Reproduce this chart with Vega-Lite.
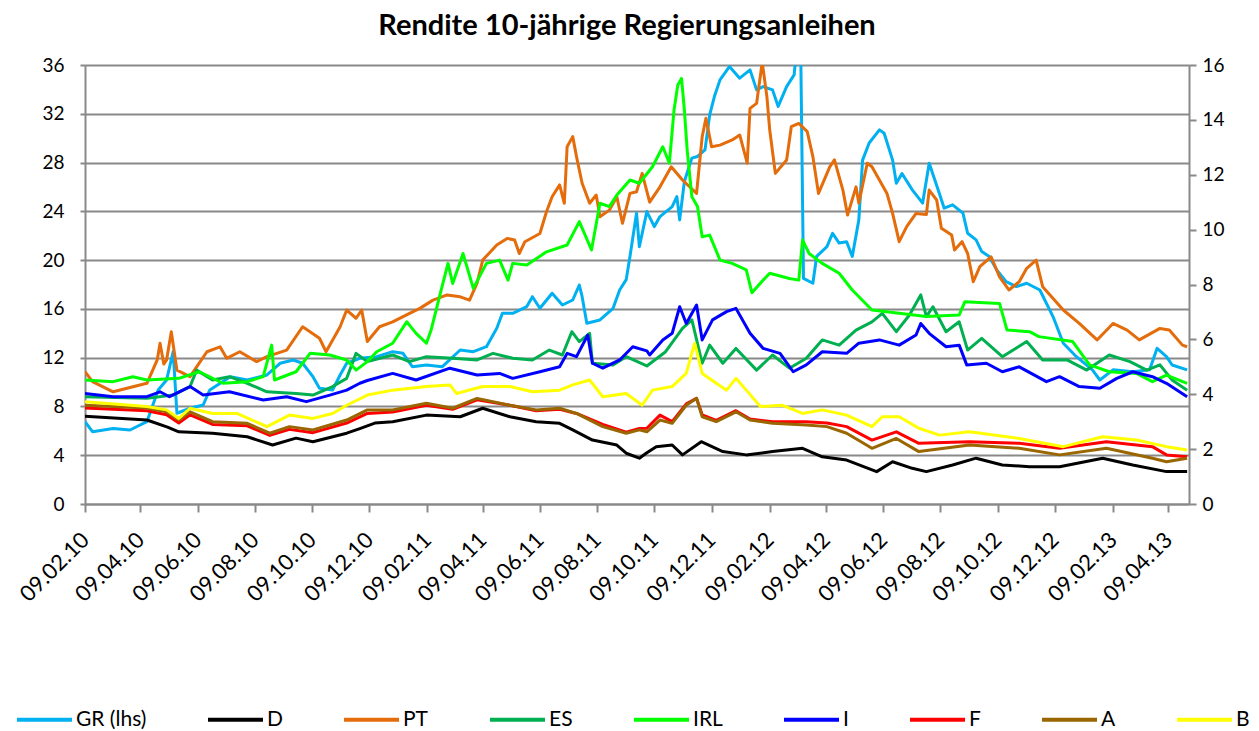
{
"$schema": "https://vega.github.io/schema/vega-lite/v6.json",
"autosize": "none",
"width": 1104,
"height": 439,
"padding": {"left": 85, "top": 65, "right": 70, "bottom": 227},
"background": "white",
"config": {"view": {"stroke": null}, "font": "Lato"},
"title": {"text": "Rendite 10-jährige Regierungsanleihen", "font": "Lato", "fontSize": 29, "fontWeight": "bold", "color": "#000000", "anchor": "middle", "frame": "group", "dx": -10, "offset": 15},
"data": {"values": [
{"d":"2010-02-09","s":"GR (lhs)","v":6.75},{"d":"2010-02-17","s":"GR (lhs)","v":5.93},{"d":"2010-03-11","s":"GR (lhs)","v":6.2},{"d":"2010-03-29","s":"GR (lhs)","v":6.07},{"d":"2010-04-16","s":"GR (lhs)","v":6.75},{"d":"2010-04-28","s":"GR (lhs)","v":9.35},{"d":"2010-05-07","s":"GR (lhs)","v":10.17},{"d":"2010-05-14","s":"GR (lhs)","v":12.5},{"d":"2010-05-18","s":"GR (lhs)","v":7.44},{"d":"2010-06-01","s":"GR (lhs)","v":7.85},{"d":"2010-06-15","s":"GR (lhs)","v":8.12},{"d":"2010-06-22","s":"GR (lhs)","v":9.35},{"d":"2010-07-14","s":"GR (lhs)","v":10.44},{"d":"2010-08-01","s":"GR (lhs)","v":10.17},{"d":"2010-08-22","s":"GR (lhs)","v":10.58},{"d":"2010-09-05","s":"GR (lhs)","v":11.54},{"d":"2010-09-19","s":"GR (lhs)","v":11.81},{"d":"2010-09-29","s":"GR (lhs)","v":11.54},{"d":"2010-10-10","s":"GR (lhs)","v":10.44},{"d":"2010-10-17","s":"GR (lhs)","v":9.49},{"d":"2010-10-31","s":"GR (lhs)","v":9.35},{"d":"2010-11-08","s":"GR (lhs)","v":10.58},{"d":"2010-11-15","s":"GR (lhs)","v":11.54},{"d":"2010-11-29","s":"GR (lhs)","v":11.95},{"d":"2010-12-17","s":"GR (lhs)","v":12.08},{"d":"2011-01-03","s":"GR (lhs)","v":12.49},{"d":"2011-01-14","s":"GR (lhs)","v":12.36},{"d":"2011-01-24","s":"GR (lhs)","v":11.26},{"d":"2011-02-08","s":"GR (lhs)","v":11.4},{"d":"2011-02-25","s":"GR (lhs)","v":11.26},{"d":"2011-03-16","s":"GR (lhs)","v":12.63},{"d":"2011-03-30","s":"GR (lhs)","v":12.49},{"d":"2011-04-13","s":"GR (lhs)","v":12.9},{"d":"2011-04-24","s":"GR (lhs)","v":14.41},{"d":"2011-04-30","s":"GR (lhs)","v":15.64},{"d":"2011-05-11","s":"GR (lhs)","v":15.64},{"d":"2011-05-26","s":"GR (lhs)","v":16.19},{"d":"2011-06-01","s":"GR (lhs)","v":17.0},{"d":"2011-06-09","s":"GR (lhs)","v":16.05},{"d":"2011-06-22","s":"GR (lhs)","v":17.28},{"d":"2011-07-03","s":"GR (lhs)","v":16.32},{"d":"2011-07-14","s":"GR (lhs)","v":16.73},{"d":"2011-07-21","s":"GR (lhs)","v":17.96},{"d":"2011-07-24","s":"GR (lhs)","v":17.0},{"d":"2011-07-29","s":"GR (lhs)","v":14.82},{"d":"2011-08-12","s":"GR (lhs)","v":15.09},{"d":"2011-08-26","s":"GR (lhs)","v":16.05},{"d":"2011-09-02","s":"GR (lhs)","v":17.55},{"d":"2011-09-09","s":"GR (lhs)","v":18.4},{"d":"2011-09-13","s":"GR (lhs)","v":20.3},{"d":"2011-09-20","s":"GR (lhs)","v":23.85},{"d":"2011-09-23","s":"GR (lhs)","v":21.1},{"d":"2011-10-01","s":"GR (lhs)","v":23.98},{"d":"2011-10-09","s":"GR (lhs)","v":22.75},{"d":"2011-10-15","s":"GR (lhs)","v":23.57},{"d":"2011-10-28","s":"GR (lhs)","v":24.39},{"d":"2011-11-02","s":"GR (lhs)","v":25.21},{"d":"2011-11-05","s":"GR (lhs)","v":23.3},{"d":"2011-11-10","s":"GR (lhs)","v":26.44},{"d":"2011-11-18","s":"GR (lhs)","v":28.36},{"d":"2011-11-24","s":"GR (lhs)","v":28.5},{"d":"2011-12-02","s":"GR (lhs)","v":29.04},{"d":"2011-12-07","s":"GR (lhs)","v":31.91},{"d":"2011-12-12","s":"GR (lhs)","v":33.41},{"d":"2011-12-18","s":"GR (lhs)","v":34.78},{"d":"2011-12-28","s":"GR (lhs)","v":35.87},{"d":"2012-01-08","s":"GR (lhs)","v":34.92},{"d":"2012-01-19","s":"GR (lhs)","v":35.6},{"d":"2012-01-26","s":"GR (lhs)","v":33.96},{"d":"2012-02-02","s":"GR (lhs)","v":34.23},{"d":"2012-02-12","s":"GR (lhs)","v":33.96},{"d":"2012-02-18","s":"GR (lhs)","v":32.6},{"d":"2012-02-27","s":"GR (lhs)","v":34.23},{"d":"2012-03-06","s":"GR (lhs)","v":35.19},{"d":"2012-03-09","s":"GR (lhs)","v":37.5},{"d":"2012-03-13","s":"GR (lhs)","v":37.5},{"d":"2012-03-16","s":"GR (lhs)","v":18.5},{"d":"2012-03-26","s":"GR (lhs)","v":18.1},{"d":"2012-03-30","s":"GR (lhs)","v":20.3},{"d":"2012-04-10","s":"GR (lhs)","v":21.1},{"d":"2012-04-16","s":"GR (lhs)","v":22.2},{"d":"2012-04-23","s":"GR (lhs)","v":21.4},{"d":"2012-05-01","s":"GR (lhs)","v":21.5},{"d":"2012-05-07","s":"GR (lhs)","v":20.3},{"d":"2012-05-14","s":"GR (lhs)","v":23.3},{"d":"2012-05-18","s":"GR (lhs)","v":28.2},{"d":"2012-05-25","s":"GR (lhs)","v":29.6},{"d":"2012-06-05","s":"GR (lhs)","v":30.68},{"d":"2012-06-10","s":"GR (lhs)","v":30.4},{"d":"2012-06-19","s":"GR (lhs)","v":28.2},{"d":"2012-06-23","s":"GR (lhs)","v":26.3},{"d":"2012-06-29","s":"GR (lhs)","v":27.1},{"d":"2012-07-10","s":"GR (lhs)","v":25.76},{"d":"2012-07-21","s":"GR (lhs)","v":24.67},{"d":"2012-07-28","s":"GR (lhs)","v":27.95},{"d":"2012-08-06","s":"GR (lhs)","v":25.9},{"d":"2012-08-13","s":"GR (lhs)","v":24.26},{"d":"2012-08-22","s":"GR (lhs)","v":24.53},{"d":"2012-09-02","s":"GR (lhs)","v":23.85},{"d":"2012-09-07","s":"GR (lhs)","v":22.2},{"d":"2012-09-16","s":"GR (lhs)","v":21.66},{"d":"2012-09-22","s":"GR (lhs)","v":20.7},{"d":"2012-09-30","s":"GR (lhs)","v":20.3},{"d":"2012-10-08","s":"GR (lhs)","v":19.2},{"d":"2012-10-18","s":"GR (lhs)","v":18.24},{"d":"2012-10-29","s":"GR (lhs)","v":17.83},{"d":"2012-11-09","s":"GR (lhs)","v":18.1},{"d":"2012-11-23","s":"GR (lhs)","v":17.55},{"d":"2012-12-07","s":"GR (lhs)","v":15.37},{"d":"2012-12-18","s":"GR (lhs)","v":13.18},{"d":"2013-01-01","s":"GR (lhs)","v":12.08},{"d":"2013-01-18","s":"GR (lhs)","v":11.0},{"d":"2013-01-26","s":"GR (lhs)","v":10.17},{"d":"2013-02-09","s":"GR (lhs)","v":11.0},{"d":"2013-03-02","s":"GR (lhs)","v":10.85},{"d":"2013-03-20","s":"GR (lhs)","v":11.0},{"d":"2013-03-28","s":"GR (lhs)","v":12.77},{"d":"2013-04-07","s":"GR (lhs)","v":12.08},{"d":"2013-04-13","s":"GR (lhs)","v":11.4},{"d":"2013-04-29","s":"GR (lhs)","v":11.0},
{"d":"2010-02-09","s":"D","v":3.2},{"d":"2010-04-16","s":"D","v":3.06},{"d":"2010-05-08","s":"D","v":2.8},{"d":"2010-05-20","s":"D","v":2.63},{"d":"2010-06-25","s":"D","v":2.58},{"d":"2010-08-01","s":"D","v":2.45},{"d":"2010-08-28","s":"D","v":2.15},{"d":"2010-09-22","s":"D","v":2.4},{"d":"2010-10-10","s":"D","v":2.27},{"d":"2010-11-15","s":"D","v":2.58},{"d":"2010-11-29","s":"D","v":2.75},{"d":"2010-12-15","s":"D","v":2.95},{"d":"2011-01-03","s":"D","v":3.0},{"d":"2011-02-08","s":"D","v":3.24},{"d":"2011-03-16","s":"D","v":3.18},{"d":"2011-04-09","s":"D","v":3.49},{"d":"2011-05-08","s":"D","v":3.18},{"d":"2011-06-05","s":"D","v":3.0},{"d":"2011-06-30","s":"D","v":2.94},{"d":"2011-07-14","s":"D","v":2.7},{"d":"2011-08-04","s":"D","v":2.33},{"d":"2011-08-30","s":"D","v":2.15},{"d":"2011-09-09","s":"D","v":1.85},{"d":"2011-09-23","s":"D","v":1.67},{"d":"2011-10-01","s":"D","v":1.87},{"d":"2011-10-11","s":"D","v":2.09},{"d":"2011-10-28","s":"D","v":2.15},{"d":"2011-11-08","s":"D","v":1.79},{"d":"2011-11-28","s":"D","v":2.27},{"d":"2011-12-21","s":"D","v":1.91},{"d":"2012-01-15","s":"D","v":1.79},{"d":"2012-02-12","s":"D","v":1.91},{"d":"2012-03-15","s":"D","v":2.03},{"d":"2012-04-05","s":"D","v":1.72},{"d":"2012-05-01","s":"D","v":1.6},{"d":"2012-06-02","s":"D","v":1.18},{"d":"2012-06-19","s":"D","v":1.54},{"d":"2012-07-10","s":"D","v":1.3},{"d":"2012-07-25","s":"D","v":1.18},{"d":"2012-08-22","s":"D","v":1.42},{"d":"2012-09-16","s":"D","v":1.67},{"d":"2012-10-14","s":"D","v":1.42},{"d":"2012-11-12","s":"D","v":1.36},{"d":"2012-12-14","s":"D","v":1.36},{"d":"2013-01-29","s":"D","v":1.67},{"d":"2013-03-02","s":"D","v":1.42},{"d":"2013-04-07","s":"D","v":1.18},{"d":"2013-04-29","s":"D","v":1.18},
{"d":"2010-02-09","s":"PT","v":4.82},{"d":"2010-02-17","s":"PT","v":4.46},{"d":"2010-03-11","s":"PT","v":4.09},{"d":"2010-04-16","s":"PT","v":4.4},{"d":"2010-04-27","s":"PT","v":5.25},{"d":"2010-04-30","s":"PT","v":5.86},{"d":"2010-05-04","s":"PT","v":5.1},{"d":"2010-05-07","s":"PT","v":5.25},{"d":"2010-05-12","s":"PT","v":6.28},{"d":"2010-05-18","s":"PT","v":4.88},{"d":"2010-06-01","s":"PT","v":4.64},{"d":"2010-06-08","s":"PT","v":5.0},{"d":"2010-06-19","s":"PT","v":5.55},{"d":"2010-07-03","s":"PT","v":5.73},{"d":"2010-07-10","s":"PT","v":5.31},{"d":"2010-07-24","s":"PT","v":5.55},{"d":"2010-08-11","s":"PT","v":5.19},{"d":"2010-08-22","s":"PT","v":5.37},{"d":"2010-09-12","s":"PT","v":5.61},{"d":"2010-09-29","s":"PT","v":6.46},{"d":"2010-10-17","s":"PT","v":6.04},{"d":"2010-10-24","s":"PT","v":5.55},{"d":"2010-11-08","s":"PT","v":6.46},{"d":"2010-11-15","s":"PT","v":7.07},{"d":"2010-11-25","s":"PT","v":6.77},{"d":"2010-12-01","s":"PT","v":7.07},{"d":"2010-12-07","s":"PT","v":5.92},{"d":"2010-12-20","s":"PT","v":6.46},{"d":"2011-01-03","s":"PT","v":6.64},{"d":"2011-01-21","s":"PT","v":6.95},{"d":"2011-02-01","s":"PT","v":7.13},{"d":"2011-02-15","s":"PT","v":7.43},{"d":"2011-03-02","s":"PT","v":7.62},{"d":"2011-03-16","s":"PT","v":7.55},{"d":"2011-03-26","s":"PT","v":7.43},{"d":"2011-04-03","s":"PT","v":8.05},{"d":"2011-04-09","s":"PT","v":8.89},{"d":"2011-04-24","s":"PT","v":9.44},{"d":"2011-05-05","s":"PT","v":9.68},{"d":"2011-05-13","s":"PT","v":9.62},{"d":"2011-05-18","s":"PT","v":9.13},{"d":"2011-05-24","s":"PT","v":9.56},{"d":"2011-06-09","s":"PT","v":9.86},{"d":"2011-06-16","s":"PT","v":10.65},{"d":"2011-06-22","s":"PT","v":11.2},{"d":"2011-06-30","s":"PT","v":11.63},{"d":"2011-07-05","s":"PT","v":10.96},{"d":"2011-07-08","s":"PT","v":13.02},{"d":"2011-07-14","s":"PT","v":13.39},{"d":"2011-07-18","s":"PT","v":12.66},{"d":"2011-07-24","s":"PT","v":11.69},{"d":"2011-08-01","s":"PT","v":10.96},{"d":"2011-08-08","s":"PT","v":11.26},{"d":"2011-08-12","s":"PT","v":10.47},{"d":"2011-08-22","s":"PT","v":10.71},{"d":"2011-08-30","s":"PT","v":11.2},{"d":"2011-09-05","s":"PT","v":10.23},{"d":"2011-09-13","s":"PT","v":11.32},{"d":"2011-09-20","s":"PT","v":11.38},{"d":"2011-09-26","s":"PT","v":12.05},{"d":"2011-10-04","s":"PT","v":11.0},{"d":"2011-10-15","s":"PT","v":11.56},{"d":"2011-10-27","s":"PT","v":12.29},{"d":"2011-11-08","s":"PT","v":11.81},{"d":"2011-11-23","s":"PT","v":11.32},{"d":"2011-11-29","s":"PT","v":13.39},{"d":"2011-12-03","s":"PT","v":14.06},{"d":"2011-12-09","s":"PT","v":13.02},{"d":"2011-12-18","s":"PT","v":13.08},{"d":"2011-12-31","s":"PT","v":13.27},{"d":"2012-01-08","s":"PT","v":13.45},{"d":"2012-01-16","s":"PT","v":12.42},{"d":"2012-01-19","s":"PT","v":14.42},{"d":"2012-01-26","s":"PT","v":14.6},{"d":"2012-02-01","s":"PT","v":16.1},{"d":"2012-02-06","s":"PT","v":14.84},{"d":"2012-02-09","s":"PT","v":13.63},{"d":"2012-02-15","s":"PT","v":12.05},{"d":"2012-02-27","s":"PT","v":12.54},{"d":"2012-03-03","s":"PT","v":13.75},{"d":"2012-03-11","s":"PT","v":13.87},{"d":"2012-03-20","s":"PT","v":13.57},{"d":"2012-03-26","s":"PT","v":12.66},{"d":"2012-04-01","s":"PT","v":11.32},{"d":"2012-04-13","s":"PT","v":12.29},{"d":"2012-04-18","s":"PT","v":12.54},{"d":"2012-04-27","s":"PT","v":11.44},{"d":"2012-05-02","s":"PT","v":10.53},{"d":"2012-05-11","s":"PT","v":11.56},{"d":"2012-05-14","s":"PT","v":10.96},{"d":"2012-05-23","s":"PT","v":12.42},{"d":"2012-05-28","s":"PT","v":12.29},{"d":"2012-06-13","s":"PT","v":11.32},{"d":"2012-06-19","s":"PT","v":10.59},{"d":"2012-06-26","s":"PT","v":9.56},{"d":"2012-07-04","s":"PT","v":10.11},{"d":"2012-07-14","s":"PT","v":10.59},{"d":"2012-07-25","s":"PT","v":10.55},{"d":"2012-07-28","s":"PT","v":11.44},{"d":"2012-08-05","s":"PT","v":11.08},{"d":"2012-08-10","s":"PT","v":10.05},{"d":"2012-08-21","s":"PT","v":9.8},{"d":"2012-08-24","s":"PT","v":9.26},{"d":"2012-09-01","s":"PT","v":9.56},{"d":"2012-09-07","s":"PT","v":9.13},{"d":"2012-09-13","s":"PT","v":8.1},{"d":"2012-09-20","s":"PT","v":8.65},{"d":"2012-10-02","s":"PT","v":9.01},{"d":"2012-10-11","s":"PT","v":8.28},{"d":"2012-10-21","s":"PT","v":7.8},{"d":"2012-11-01","s":"PT","v":8.1},{"d":"2012-11-09","s":"PT","v":8.59},{"d":"2012-11-19","s":"PT","v":8.89},{"d":"2012-11-26","s":"PT","v":7.92},{"d":"2012-12-18","s":"PT","v":7.07},{"d":"2013-01-04","s":"PT","v":6.58},{"d":"2013-01-23","s":"PT","v":5.98},{"d":"2013-02-09","s":"PT","v":6.58},{"d":"2013-02-24","s":"PT","v":6.34},{"d":"2013-03-09","s":"PT","v":5.98},{"d":"2013-03-31","s":"PT","v":6.4},{"d":"2013-04-10","s":"PT","v":6.34},{"d":"2013-04-24","s":"PT","v":5.79},{"d":"2013-04-29","s":"PT","v":5.73},
{"d":"2010-02-09","s":"ES","v":3.91},{"d":"2010-04-16","s":"ES","v":3.85},{"d":"2010-05-14","s":"ES","v":3.97},{"d":"2010-06-01","s":"ES","v":4.28},{"d":"2010-06-08","s":"ES","v":4.88},{"d":"2010-06-25","s":"ES","v":4.52},{"d":"2010-07-13","s":"ES","v":4.64},{"d":"2010-08-01","s":"ES","v":4.4},{"d":"2010-08-22","s":"ES","v":4.09},{"d":"2010-09-22","s":"ES","v":4.03},{"d":"2010-10-10","s":"ES","v":3.97},{"d":"2010-10-31","s":"ES","v":4.28},{"d":"2010-11-15","s":"ES","v":4.58},{"d":"2010-11-25","s":"ES","v":5.49},{"d":"2010-12-07","s":"ES","v":5.19},{"d":"2011-01-03","s":"ES","v":5.43},{"d":"2011-01-21","s":"ES","v":5.19},{"d":"2011-02-08","s":"ES","v":5.37},{"d":"2011-03-08","s":"ES","v":5.31},{"d":"2011-04-03","s":"ES","v":5.25},{"d":"2011-04-20","s":"ES","v":5.49},{"d":"2011-05-11","s":"ES","v":5.31},{"d":"2011-06-01","s":"ES","v":5.25},{"d":"2011-06-19","s":"ES","v":5.61},{"d":"2011-07-03","s":"ES","v":5.43},{"d":"2011-07-13","s":"ES","v":6.28},{"d":"2011-07-21","s":"ES","v":5.92},{"d":"2011-08-01","s":"ES","v":6.22},{"d":"2011-08-04","s":"ES","v":5.13},{"d":"2011-08-26","s":"ES","v":5.07},{"d":"2011-09-09","s":"ES","v":5.37},{"d":"2011-10-01","s":"ES","v":5.03},{"d":"2011-10-21","s":"ES","v":5.55},{"d":"2011-11-08","s":"ES","v":6.4},{"d":"2011-11-18","s":"ES","v":6.71},{"d":"2011-11-29","s":"ES","v":5.13},{"d":"2011-12-07","s":"ES","v":5.79},{"d":"2011-12-21","s":"ES","v":5.13},{"d":"2012-01-04","s":"ES","v":5.67},{"d":"2012-01-26","s":"ES","v":4.88},{"d":"2012-02-12","s":"ES","v":5.43},{"d":"2012-03-01","s":"ES","v":4.95},{"d":"2012-03-19","s":"ES","v":5.31},{"d":"2012-04-05","s":"ES","v":5.98},{"d":"2012-04-23","s":"ES","v":5.79},{"d":"2012-05-11","s":"ES","v":6.34},{"d":"2012-05-28","s":"ES","v":6.64},{"d":"2012-06-08","s":"ES","v":6.95},{"d":"2012-06-23","s":"ES","v":6.28},{"d":"2012-07-07","s":"ES","v":6.89},{"d":"2012-07-19","s":"ES","v":7.62},{"d":"2012-07-25","s":"ES","v":6.83},{"d":"2012-08-01","s":"ES","v":7.19},{"d":"2012-08-15","s":"ES","v":6.28},{"d":"2012-08-29","s":"ES","v":6.64},{"d":"2012-09-07","s":"ES","v":5.61},{"d":"2012-09-22","s":"ES","v":6.04},{"d":"2012-10-14","s":"ES","v":5.37},{"d":"2012-11-09","s":"ES","v":5.92},{"d":"2012-11-26","s":"ES","v":5.25},{"d":"2012-12-22","s":"ES","v":5.25},{"d":"2013-01-12","s":"ES","v":4.88},{"d":"2013-02-05","s":"ES","v":5.43},{"d":"2013-02-27","s":"ES","v":5.19},{"d":"2013-03-17","s":"ES","v":4.88},{"d":"2013-03-31","s":"ES","v":5.07},{"d":"2013-04-13","s":"ES","v":4.52},{"d":"2013-04-29","s":"ES","v":4.15},
{"d":"2010-02-09","s":"IRL","v":4.52},{"d":"2010-03-11","s":"IRL","v":4.46},{"d":"2010-04-01","s":"IRL","v":4.64},{"d":"2010-04-16","s":"IRL","v":4.52},{"d":"2010-05-20","s":"IRL","v":4.58},{"d":"2010-06-11","s":"IRL","v":4.82},{"d":"2010-07-06","s":"IRL","v":4.4},{"d":"2010-08-01","s":"IRL","v":4.46},{"d":"2010-08-18","s":"IRL","v":4.64},{"d":"2010-08-27","s":"IRL","v":5.79},{"d":"2010-08-30","s":"IRL","v":4.52},{"d":"2010-09-22","s":"IRL","v":4.82},{"d":"2010-10-07","s":"IRL","v":5.49},{"d":"2010-10-28","s":"IRL","v":5.43},{"d":"2010-11-15","s":"IRL","v":5.25},{"d":"2010-11-25","s":"IRL","v":4.88},{"d":"2010-12-07","s":"IRL","v":5.19},{"d":"2010-12-17","s":"IRL","v":5.55},{"d":"2011-01-03","s":"IRL","v":5.86},{"d":"2011-01-18","s":"IRL","v":6.64},{"d":"2011-01-28","s":"IRL","v":6.22},{"d":"2011-02-08","s":"IRL","v":5.86},{"d":"2011-02-13","s":"IRL","v":6.34},{"d":"2011-02-21","s":"IRL","v":7.43},{"d":"2011-03-03","s":"IRL","v":8.77},{"d":"2011-03-08","s":"IRL","v":8.04},{"d":"2011-03-19","s":"IRL","v":9.13},{"d":"2011-03-30","s":"IRL","v":7.86},{"d":"2011-04-13","s":"IRL","v":8.77},{"d":"2011-04-27","s":"IRL","v":8.89},{"d":"2011-05-06","s":"IRL","v":8.16},{"d":"2011-05-11","s":"IRL","v":8.77},{"d":"2011-05-26","s":"IRL","v":8.71},{"d":"2011-06-16","s":"IRL","v":9.19},{"d":"2011-07-08","s":"IRL","v":9.44},{"d":"2011-07-21","s":"IRL","v":10.29},{"d":"2011-08-03","s":"IRL","v":9.26},{"d":"2011-08-12","s":"IRL","v":10.96},{"d":"2011-08-22","s":"IRL","v":10.84},{"d":"2011-08-30","s":"IRL","v":11.26},{"d":"2011-09-13","s":"IRL","v":11.81},{"d":"2011-09-23","s":"IRL","v":11.69},{"d":"2011-10-07","s":"IRL","v":12.29},{"d":"2011-10-18","s":"IRL","v":13.02},{"d":"2011-10-25","s":"IRL","v":12.42},{"d":"2011-10-30","s":"IRL","v":14.36},{"d":"2011-11-03","s":"IRL","v":15.27},{"d":"2011-11-07","s":"IRL","v":15.51},{"d":"2011-11-10","s":"IRL","v":14.36},{"d":"2011-11-13","s":"IRL","v":12.9},{"d":"2011-11-18","s":"IRL","v":11.2},{"d":"2011-11-24","s":"IRL","v":10.84},{"d":"2011-11-29","s":"IRL","v":9.74},{"d":"2011-12-07","s":"IRL","v":9.8},{"d":"2011-12-18","s":"IRL","v":8.89},{"d":"2011-12-31","s":"IRL","v":8.77},{"d":"2012-01-15","s":"IRL","v":8.53},{"d":"2012-01-21","s":"IRL","v":7.7},{"d":"2012-02-02","s":"IRL","v":8.16},{"d":"2012-02-09","s":"IRL","v":8.41},{"d":"2012-03-01","s":"IRL","v":8.22},{"d":"2012-03-11","s":"IRL","v":8.16},{"d":"2012-03-15","s":"IRL","v":9.62},{"d":"2012-03-22","s":"IRL","v":9.13},{"d":"2012-04-05","s":"IRL","v":8.77},{"d":"2012-04-23","s":"IRL","v":8.41},{"d":"2012-05-07","s":"IRL","v":7.8},{"d":"2012-05-28","s":"IRL","v":7.07},{"d":"2012-06-26","s":"IRL","v":6.95},{"d":"2012-07-25","s":"IRL","v":6.83},{"d":"2012-08-29","s":"IRL","v":6.89},{"d":"2012-09-04","s":"IRL","v":7.37},{"d":"2012-10-11","s":"IRL","v":7.31},{"d":"2012-10-19","s":"IRL","v":6.34},{"d":"2012-11-12","s":"IRL","v":6.28},{"d":"2012-11-22","s":"IRL","v":6.1},{"d":"2012-12-28","s":"IRL","v":5.92},{"d":"2013-01-15","s":"IRL","v":5.07},{"d":"2013-02-05","s":"IRL","v":4.82},{"d":"2013-03-06","s":"IRL","v":4.76},{"d":"2013-03-23","s":"IRL","v":4.46},{"d":"2013-04-07","s":"IRL","v":4.7},{"d":"2013-04-29","s":"IRL","v":4.4},
{"d":"2010-02-09","s":"I","v":4.03},{"d":"2010-03-11","s":"I","v":3.91},{"d":"2010-04-16","s":"I","v":3.91},{"d":"2010-04-30","s":"I","v":4.09},{"d":"2010-05-10","s":"I","v":3.91},{"d":"2010-06-01","s":"I","v":4.28},{"d":"2010-06-15","s":"I","v":3.97},{"d":"2010-07-13","s":"I","v":4.09},{"d":"2010-08-18","s":"I","v":3.79},{"d":"2010-09-12","s":"I","v":3.91},{"d":"2010-10-03","s":"I","v":3.73},{"d":"2010-10-28","s":"I","v":3.97},{"d":"2010-11-15","s":"I","v":4.15},{"d":"2010-11-29","s":"I","v":4.4},{"d":"2010-12-07","s":"I","v":4.5},{"d":"2011-01-03","s":"I","v":4.76},{"d":"2011-01-28","s":"I","v":4.52},{"d":"2011-03-05","s":"I","v":4.95},{"d":"2011-04-03","s":"I","v":4.7},{"d":"2011-04-27","s":"I","v":4.76},{"d":"2011-05-11","s":"I","v":4.58},{"d":"2011-06-09","s":"I","v":4.82},{"d":"2011-06-30","s":"I","v":5.0},{"d":"2011-07-08","s":"I","v":5.49},{"d":"2011-07-18","s":"I","v":5.37},{"d":"2011-07-30","s":"I","v":6.16},{"d":"2011-08-04","s":"I","v":5.13},{"d":"2011-08-15","s":"I","v":4.95},{"d":"2011-09-02","s":"I","v":5.25},{"d":"2011-09-16","s":"I","v":5.73},{"d":"2011-10-01","s":"I","v":5.58},{"d":"2011-10-04","s":"I","v":5.43},{"d":"2011-10-18","s":"I","v":5.98},{"d":"2011-10-28","s":"I","v":6.22},{"d":"2011-11-05","s":"I","v":7.19},{"d":"2011-11-12","s":"I","v":6.58},{"d":"2011-11-23","s":"I","v":7.25},{"d":"2011-11-29","s":"I","v":5.98},{"d":"2011-12-10","s":"I","v":6.71},{"d":"2011-12-25","s":"I","v":7.01},{"d":"2012-01-04","s":"I","v":7.13},{"d":"2012-01-19","s":"I","v":6.22},{"d":"2012-02-02","s":"I","v":5.67},{"d":"2012-02-20","s":"I","v":5.49},{"d":"2012-03-05","s":"I","v":4.82},{"d":"2012-03-19","s":"I","v":5.07},{"d":"2012-04-05","s":"I","v":5.55},{"d":"2012-05-01","s":"I","v":5.49},{"d":"2012-05-14","s":"I","v":5.86},{"d":"2012-06-05","s":"I","v":5.98},{"d":"2012-06-26","s":"I","v":5.79},{"d":"2012-07-14","s":"I","v":6.16},{"d":"2012-07-19","s":"I","v":6.58},{"d":"2012-07-28","s":"I","v":6.22},{"d":"2012-08-15","s":"I","v":5.73},{"d":"2012-08-29","s":"I","v":5.79},{"d":"2012-09-06","s":"I","v":5.07},{"d":"2012-09-27","s":"I","v":5.13},{"d":"2012-10-14","s":"I","v":4.82},{"d":"2012-11-01","s":"I","v":5.0},{"d":"2012-11-30","s":"I","v":4.46},{"d":"2012-12-14","s":"I","v":4.64},{"d":"2013-01-04","s":"I","v":4.28},{"d":"2013-01-26","s":"I","v":4.22},{"d":"2013-02-13","s":"I","v":4.58},{"d":"2013-03-02","s":"I","v":4.82},{"d":"2013-03-23","s":"I","v":4.64},{"d":"2013-04-07","s":"I","v":4.4},{"d":"2013-04-29","s":"I","v":3.91},
{"d":"2010-02-09","s":"F","v":3.5},{"d":"2010-04-16","s":"F","v":3.4},{"d":"2010-05-07","s":"F","v":3.25},{"d":"2010-05-20","s":"F","v":2.95},{"d":"2010-06-01","s":"F","v":3.25},{"d":"2010-06-25","s":"F","v":2.9},{"d":"2010-08-01","s":"F","v":2.85},{"d":"2010-08-25","s":"F","v":2.5},{"d":"2010-09-15","s":"F","v":2.72},{"d":"2010-10-10","s":"F","v":2.6},{"d":"2010-11-15","s":"F","v":2.95},{"d":"2010-12-07","s":"F","v":3.3},{"d":"2011-01-03","s":"F","v":3.35},{"d":"2011-02-08","s":"F","v":3.6},{"d":"2011-03-08","s":"F","v":3.45},{"d":"2011-04-03","s":"F","v":3.8},{"d":"2011-05-08","s":"F","v":3.6},{"d":"2011-06-05","s":"F","v":3.4},{"d":"2011-06-30","s":"F","v":3.45},{"d":"2011-07-18","s":"F","v":3.3},{"d":"2011-08-15","s":"F","v":2.9},{"d":"2011-09-09","s":"F","v":2.62},{"d":"2011-09-23","s":"F","v":2.75},{"d":"2011-10-01","s":"F","v":2.76},{"d":"2011-10-15","s":"F","v":3.24},{"d":"2011-10-28","s":"F","v":3.0},{"d":"2011-11-12","s":"F","v":3.65},{"d":"2011-11-23","s":"F","v":3.85},{"d":"2011-11-29","s":"F","v":3.25},{"d":"2011-12-14","s":"F","v":3.05},{"d":"2012-01-04","s":"F","v":3.4},{"d":"2012-01-19","s":"F","v":3.1},{"d":"2012-02-12","s":"F","v":3.0},{"d":"2012-03-19","s":"F","v":3.0},{"d":"2012-04-10","s":"F","v":2.95},{"d":"2012-05-01","s":"F","v":2.82},{"d":"2012-05-28","s":"F","v":2.33},{"d":"2012-06-23","s":"F","v":2.63},{"d":"2012-07-17","s":"F","v":2.21},{"d":"2012-09-09","s":"F","v":2.27},{"d":"2012-11-01","s":"F","v":2.21},{"d":"2012-12-14","s":"F","v":2.03},{"d":"2013-02-02","s":"F","v":2.27},{"d":"2013-03-23","s":"F","v":2.09},{"d":"2013-04-07","s":"F","v":1.79},{"d":"2013-04-29","s":"F","v":1.72},
{"d":"2010-02-09","s":"A","v":3.6},{"d":"2010-04-16","s":"A","v":3.5},{"d":"2010-05-07","s":"A","v":3.36},{"d":"2010-05-20","s":"A","v":3.06},{"d":"2010-06-01","s":"A","v":3.36},{"d":"2010-06-25","s":"A","v":3.0},{"d":"2010-08-01","s":"A","v":2.94},{"d":"2010-08-25","s":"A","v":2.58},{"d":"2010-09-15","s":"A","v":2.82},{"d":"2010-10-10","s":"A","v":2.7},{"d":"2010-11-15","s":"A","v":3.06},{"d":"2010-12-07","s":"A","v":3.43},{"d":"2011-01-03","s":"A","v":3.43},{"d":"2011-02-08","s":"A","v":3.67},{"d":"2011-03-08","s":"A","v":3.49},{"d":"2011-04-03","s":"A","v":3.85},{"d":"2011-05-08","s":"A","v":3.6},{"d":"2011-06-05","s":"A","v":3.43},{"d":"2011-06-30","s":"A","v":3.49},{"d":"2011-07-18","s":"A","v":3.3},{"d":"2011-08-15","s":"A","v":2.82},{"d":"2011-09-09","s":"A","v":2.58},{"d":"2011-09-23","s":"A","v":2.7},{"d":"2011-10-01","s":"A","v":2.63},{"d":"2011-10-15","s":"A","v":3.06},{"d":"2011-10-28","s":"A","v":2.94},{"d":"2011-11-12","s":"A","v":3.6},{"d":"2011-11-23","s":"A","v":3.85},{"d":"2011-11-29","s":"A","v":3.18},{"d":"2011-12-14","s":"A","v":3.0},{"d":"2012-01-04","s":"A","v":3.36},{"d":"2012-01-19","s":"A","v":3.06},{"d":"2012-02-12","s":"A","v":2.94},{"d":"2012-03-19","s":"A","v":2.88},{"d":"2012-04-10","s":"A","v":2.82},{"d":"2012-05-01","s":"A","v":2.58},{"d":"2012-05-28","s":"A","v":2.03},{"d":"2012-06-23","s":"A","v":2.39},{"d":"2012-07-17","s":"A","v":1.91},{"d":"2012-09-09","s":"A","v":2.15},{"d":"2012-11-01","s":"A","v":2.03},{"d":"2012-12-14","s":"A","v":1.79},{"d":"2013-02-02","s":"A","v":2.03},{"d":"2013-03-23","s":"A","v":1.67},{"d":"2013-04-07","s":"A","v":1.54},{"d":"2013-04-29","s":"A","v":1.67},
{"d":"2010-02-09","s":"B","v":3.73},{"d":"2010-04-16","s":"B","v":3.55},{"d":"2010-05-07","s":"B","v":3.43},{"d":"2010-05-20","s":"B","v":3.12},{"d":"2010-06-01","s":"B","v":3.49},{"d":"2010-06-25","s":"B","v":3.3},{"d":"2010-07-21","s":"B","v":3.3},{"d":"2010-08-22","s":"B","v":2.82},{"d":"2010-09-15","s":"B","v":3.24},{"d":"2010-10-10","s":"B","v":3.12},{"d":"2010-10-31","s":"B","v":3.3},{"d":"2010-11-15","s":"B","v":3.6},{"d":"2010-12-07","s":"B","v":3.97},{"d":"2011-01-03","s":"B","v":4.15},{"d":"2011-02-08","s":"B","v":4.28},{"d":"2011-03-05","s":"B","v":4.34},{"d":"2011-03-12","s":"B","v":4.03},{"d":"2011-04-09","s":"B","v":4.28},{"d":"2011-05-08","s":"B","v":4.28},{"d":"2011-06-01","s":"B","v":4.09},{"d":"2011-06-30","s":"B","v":4.15},{"d":"2011-07-14","s":"B","v":4.34},{"d":"2011-08-01","s":"B","v":4.52},{"d":"2011-08-15","s":"B","v":3.91},{"d":"2011-09-09","s":"B","v":4.03},{"d":"2011-09-26","s":"B","v":3.6},{"d":"2011-10-07","s":"B","v":4.15},{"d":"2011-10-28","s":"B","v":4.28},{"d":"2011-11-12","s":"B","v":4.76},{"d":"2011-11-21","s":"B","v":5.86},{"d":"2011-11-29","s":"B","v":4.76},{"d":"2011-12-14","s":"B","v":4.4},{"d":"2011-12-25","s":"B","v":4.15},{"d":"2012-01-04","s":"B","v":4.58},{"d":"2012-01-15","s":"B","v":4.15},{"d":"2012-01-30","s":"B","v":3.55},{"d":"2012-02-22","s":"B","v":3.6},{"d":"2012-03-15","s":"B","v":3.3},{"d":"2012-04-05","s":"B","v":3.43},{"d":"2012-05-01","s":"B","v":3.24},{"d":"2012-05-28","s":"B","v":2.82},{"d":"2012-06-08","s":"B","v":3.18},{"d":"2012-06-26","s":"B","v":3.18},{"d":"2012-07-17","s":"B","v":2.76},{"d":"2012-08-08","s":"B","v":2.51},{"d":"2012-09-09","s":"B","v":2.63},{"d":"2012-11-01","s":"B","v":2.39},{"d":"2012-12-18","s":"B","v":2.09},{"d":"2013-01-29","s":"B","v":2.45},{"d":"2013-03-06","s":"B","v":2.33},{"d":"2013-04-07","s":"B","v":2.09},{"d":"2013-04-29","s":"B","v":1.97}
]},
"encoding": {
  "x": {"field": "d", "type": "temporal",
    "scale": {"type": "utc", "domain": [{"year":2010,"month":2,"date":9,"utc":true},{"year":2013,"month":5,"date":1,"utc":true}]},
    "axis": {"title": null, "format": "%d.%m.%y", "labelAngle": -45, "labelAlign": "right", "labelBaseline": "middle", "labelFont": "Lato", "labelFontSize": 22, "labelColor": "#000000", "labelPadding": 24, "tickSize": 8, "tickColor": "#898989", "tickWidth": 2, "domainColor": "#898989", "domainWidth": 2, "grid": false, "labelOverlap": false, "labelBound": false, "labelFlush": false,
      "values": [{"year":2010,"month":2,"date":9,"utc":true},{"year":2010,"month":4,"date":9,"utc":true},{"year":2010,"month":6,"date":9,"utc":true},{"year":2010,"month":8,"date":9,"utc":true},{"year":2010,"month":10,"date":9,"utc":true},{"year":2010,"month":12,"date":9,"utc":true},{"year":2011,"month":2,"date":9,"utc":true},{"year":2011,"month":4,"date":9,"utc":true},{"year":2011,"month":6,"date":9,"utc":true},{"year":2011,"month":8,"date":9,"utc":true},{"year":2011,"month":10,"date":9,"utc":true},{"year":2011,"month":12,"date":9,"utc":true},{"year":2012,"month":2,"date":9,"utc":true},{"year":2012,"month":4,"date":9,"utc":true},{"year":2012,"month":6,"date":9,"utc":true},{"year":2012,"month":8,"date":9,"utc":true},{"year":2012,"month":10,"date":9,"utc":true},{"year":2012,"month":12,"date":9,"utc":true},{"year":2013,"month":2,"date":9,"utc":true},{"year":2013,"month":4,"date":9,"utc":true}]}},
  "color": {"field": "s", "type": "nominal",
    "scale": {"domain": ["GR (lhs)","D","PT","ES","IRL","I","F","A","B"], "range": ["#00B0F0","#000000","#E46C0A","#00B050","#00FF00","#0000FF","#FF0000","#996600","#FFFF00"]},
    "legend": {"title": null, "orient": "none", "legendX": -70, "legendY": 625, "direction": "horizontal", "symbolType": "stroke", "symbolSize": 3025, "symbolStrokeWidth": 4, "labelFont": "Lato", "labelFontSize": 21, "labelColor": "#000000", "labelOffset": 2, "columnPadding": 53}}
},
"layer": [
  {"transform": [{"filter": "datum.s === 'GR (lhs)'"}],
   "mark": {"type": "line", "strokeWidth": 3, "clip": true, "strokeJoin": "round"},
   "encoding": {"y": {"field": "v", "type": "quantitative", "scale": {"domain": [0, 36], "nice": false},
     "axis": {"title": null, "orient": "left", "values": [0,4,8,12,16,20,24,28,32,36], "grid": true, "gridColor": "#898989", "gridWidth": 2, "labelFont": "Lato", "labelFontSize": 19, "labelColor": "#000000", "labelPadding": 16, "tickSize": 5, "tickColor": "#898989", "tickWidth": 2, "domainColor": "#898989", "domainWidth": 2}}}},
  {"transform": [{"filter": "datum.s !== 'GR (lhs)'"}],
   "mark": {"type": "line", "strokeWidth": 3, "clip": true, "strokeJoin": "round"},
   "encoding": {"y": {"field": "v", "type": "quantitative", "scale": {"domain": [0, 16], "nice": false},
     "axis": {"title": null, "orient": "right", "values": [0,2,4,6,8,10,12,14,16], "grid": false, "labelFont": "Lato", "labelFontSize": 19, "labelColor": "#000000", "labelPadding": 6, "tickSize": 7, "tickColor": "#898989", "tickWidth": 2, "domainColor": "#898989", "domainWidth": 2}}}}
],
"resolve": {"scale": {"y": "independent"}}
}
